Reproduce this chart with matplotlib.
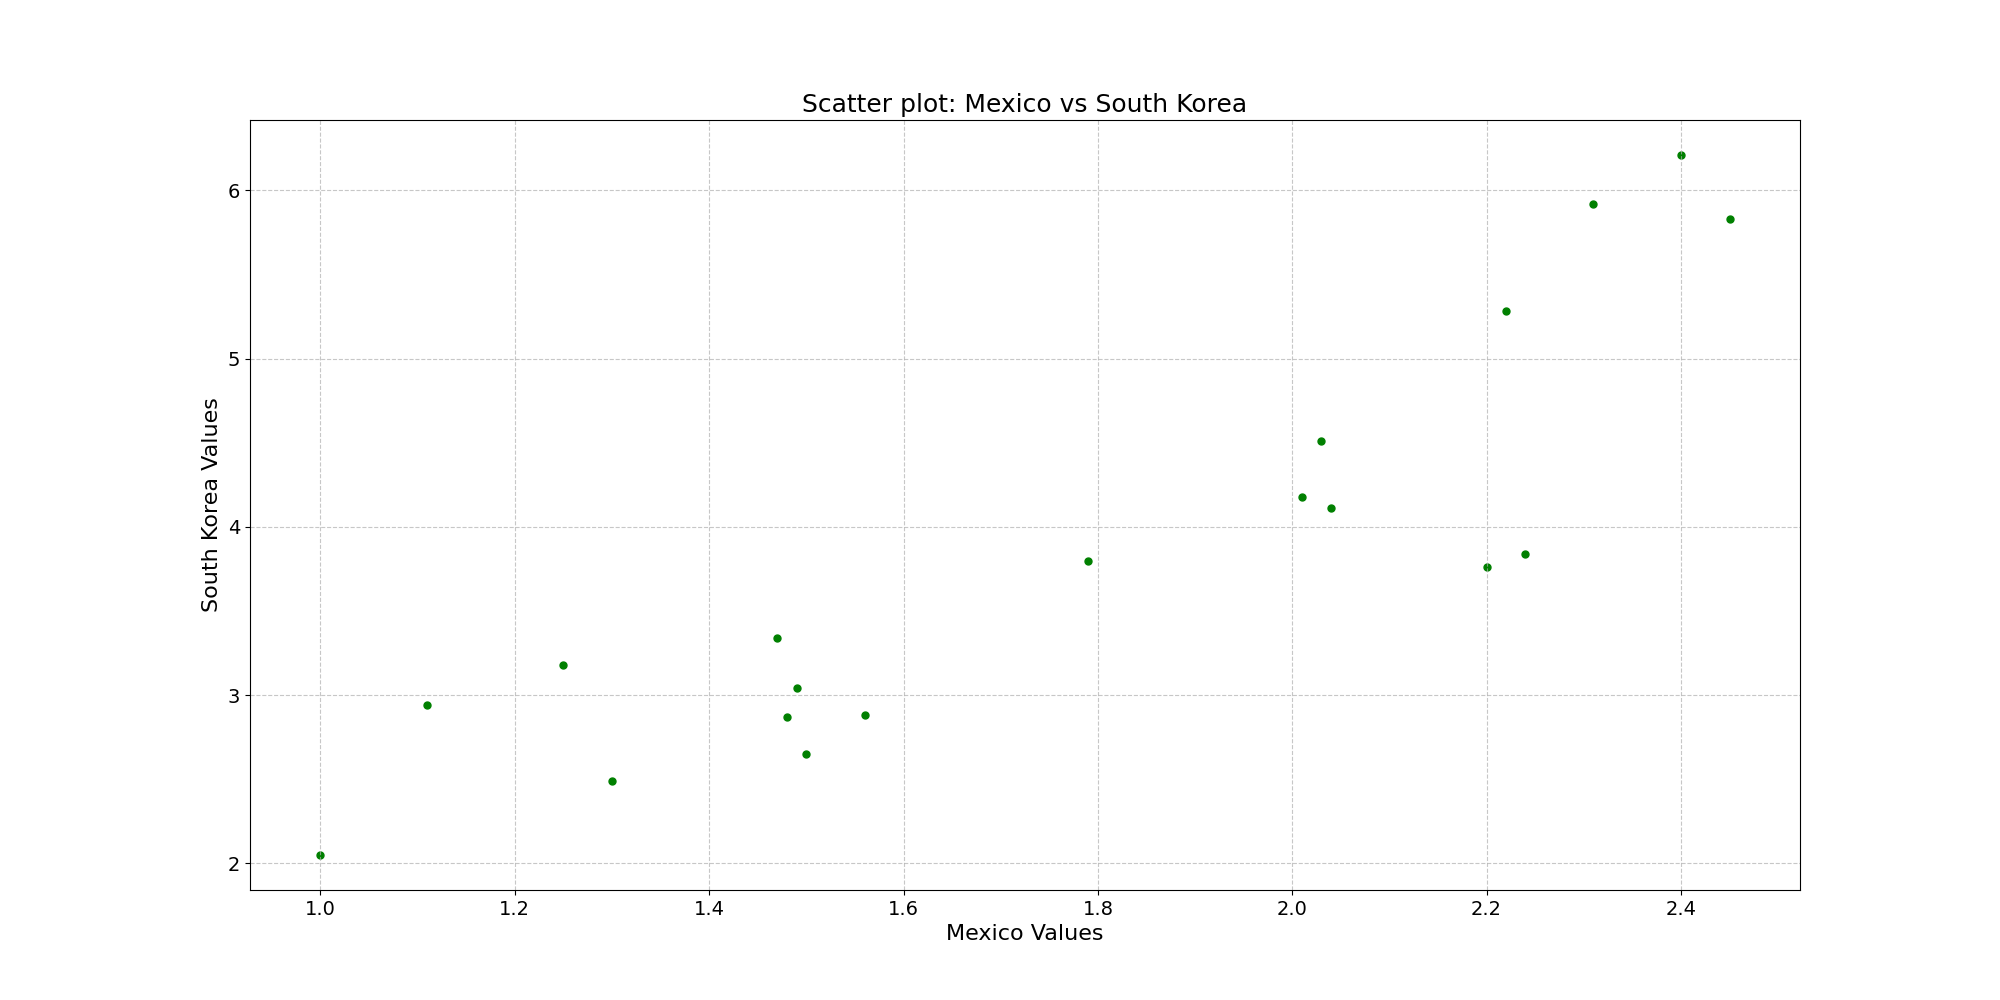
import matplotlib
matplotlib.use("Agg")
import matplotlib.pyplot as plt

mexico = [1.00, 1.11, 1.25, 1.30, 1.47, 1.48, 1.49, 1.50, 1.56, 1.79,
          2.01, 2.03, 2.04, 2.20, 2.22, 2.24, 2.31, 2.40, 2.45]
south_korea = [2.05, 2.94, 3.18, 2.49, 3.34, 2.87, 3.045, 2.65, 2.88, 3.80,
               4.175, 4.51, 4.11, 3.76, 5.28, 3.84, 5.92, 6.21, 5.83]

fig, ax = plt.subplots(figsize=(20, 10), dpi=100)
ax.scatter(mexico, south_korea, color="green", s=25)
ax.set_title("Scatter plot: Mexico vs South Korea", fontsize=18)
ax.set_xlabel("Mexico Values", fontsize=16)
ax.set_ylabel("South Korea Values", fontsize=16)
ax.tick_params(labelsize=14)
ax.grid(True, linestyle="--", alpha=0.7)
fig.savefig("out.png")
